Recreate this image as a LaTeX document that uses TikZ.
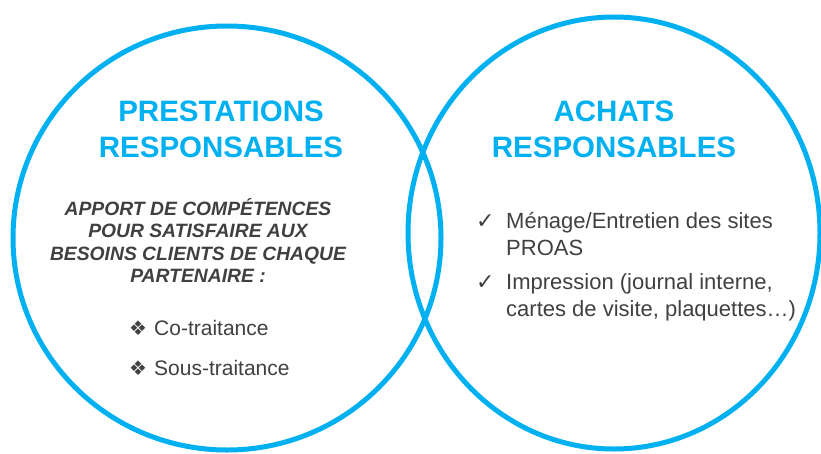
\documentclass[tikz,border=0pt]{standalone}
\usepackage{fontspec}
\setmainfont{Liberation Sans}
\newfontfamily\symfont{DejaVu Sans}
\usetikzlibrary{shapes.geometric}

\definecolor{ringblue}{HTML}{00B0F0}
\definecolor{textgray}{HTML}{404040}
\newcommand\tickmark{\makebox[30pt][l]{\symfont\fontsize{22}{22}\selectfont ✓}}
\newcommand\diamondmark{\makebox[25pt][l]{\symfont\fontsize{20}{20}\selectfont ❖}}

\tikzset{
  ring/.style={draw=ringblue, line width=5pt, ellipse, inner sep=0pt},
  heading/.style={text=ringblue, inner sep=0pt, anchor=base,
    font=\bfseries\fontsize{29.5}{36}\selectfont},
  body/.style={text=textgray, inner sep=0pt, anchor=base},
}

\begin{document}
\begin{tikzpicture}[x=1pt,y=-1pt]
		\useasboundingbox (0,0) rectangle (821,453);
		\node[ring, minimum width=428pt, minimum height=424pt](prestring) at (227,238) {};
		\node[ring, minimum width=412pt, minimum height=432pt](achring) at (614,233) {};
		\node[heading](presttitle) at (221,121) {\begin{tabular}[t]{@{}c@{}}PRESTATIONS\\RESPONSABLES\end{tabular}};
		\node[heading](achtitle) at (614,121) {\begin{tabular}[t]{@{}c@{}}ACHATS\\RESPONSABLES\end{tabular}};
		\node[body, font=\bfseries\itshape\fontsize{19.3}{22.5}\selectfont](apport) at (198,215)
		{\begin{tabular}[t]{@{}c@{}}APPORT DE COMPÉTENCES\\POUR SATISFAIRE AUX\\BESOINS CLIENTS DE CHAQUE\\PARTENAIRE :\end{tabular}};
		\node[body, anchor=base west, font=\fontsize{21}{25}\selectfont](cotrait) at (129,335) {\diamondmark Co-traitance};
		\node[body, anchor=base west, font=\fontsize{21}{25}\selectfont](soustrait) at (129,375) {\diamondmark Sous-traitance};
		\node[body, anchor=base west, font=\fontsize{22}{27}\selectfont](menage) at (476,228)
		{\begin{tabular}[t]{@{}l@{}l@{}}\tickmark & Ménage/Entretien des sites\\ & PROAS\end{tabular}};
		\node[body, anchor=base west, font=\fontsize{22}{27}\selectfont](impression) at (476,289)
		{\begin{tabular}[t]{@{}l@{}l@{}}\tickmark & Impression (journal interne,\\ & cartes de visite, plaquettes…)\end{tabular}};
	\end{tikzpicture}
\end{document}
